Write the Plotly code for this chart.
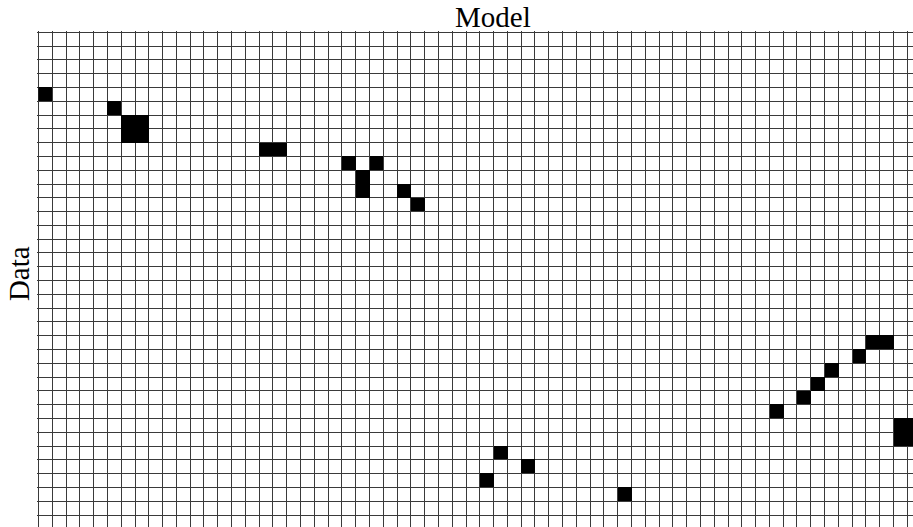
import numpy as np
import plotly.graph_objects as go

# Grid size (rows x columns of cells visible)
n_rows = 36
n_cols = 64

# Filled (black) cells: row index (top = 0) and column index (left = 0)
filled_rows = [4, 5, 6, 6, 7, 7, 8, 8, 9, 9, 10, 11, 11, 12,
               22, 22, 23, 24, 25, 26, 27, 28, 28, 29, 29, 30, 31, 32, 33]
filled_cols = [0, 5, 6, 7, 6, 7, 16, 17, 22, 24, 23, 23, 26, 27,
               60, 61, 59, 57, 56, 55, 53, 62, 63, 62, 63, 33, 35, 32, 42]

title_text = "Model"
ylabel_text = "Data"

z = np.full((n_rows, n_cols), np.nan)
for r, c in zip(filled_rows, filled_cols):
    z[r, c] = 1.0

fig = go.Figure(go.Heatmap(
    z=z,
    x=list(range(n_cols)),
    y=list(range(n_rows)),
    colorscale=[[0, "black"], [1, "black"]],
    zmin=0, zmax=1,
    showscale=False,
    hoverinfo="skip",
))

x_bounds = [i - 0.5 for i in range(n_cols + 1)]
y_bounds = [i - 0.5 for i in range(n_rows + 1)]

fig.update_xaxes(
    range=[-0.609, 62.915],
    tickvals=x_bounds, showticklabels=False, ticks="",
    showgrid=True, gridcolor="#3a3a3a", gridwidth=1,
    zeroline=False, showline=False,
)
fig.update_yaxes(
    range=[35.37, -0.594],
    tickvals=y_bounds, showticklabels=False, ticks="",
    showgrid=True, gridcolor="#3a3a3a", gridwidth=1,
    zeroline=False, showline=False,
)

fig.update_layout(
    width=913, height=527,
    margin=dict(l=37, r=0, t=31, b=0),
    paper_bgcolor="white", plot_bgcolor="white",
    showlegend=False,
    annotations=[
        dict(text=title_text, xref="paper", yref="paper",
             x=0.5205, y=1.0, xanchor="center", yanchor="bottom",
             showarrow=False, yshift=-4,
             font=dict(family="Liberation Serif", size=29, color="black")),
        dict(text=ylabel_text, xref="paper", yref="paper",
             x=-0.0205, y=0.51, xanchor="center", yanchor="middle",
             textangle=-90, showarrow=False,
             font=dict(family="Liberation Serif", size=29, color="black")),
    ],
)

# remove the default page margin so the figure fills the window exactly
fig.write_html(
    "out.html",
    config={"displayModeBar": False},
    post_script="document.body.style.margin='0';document.body.style.overflow='hidden';",
)
